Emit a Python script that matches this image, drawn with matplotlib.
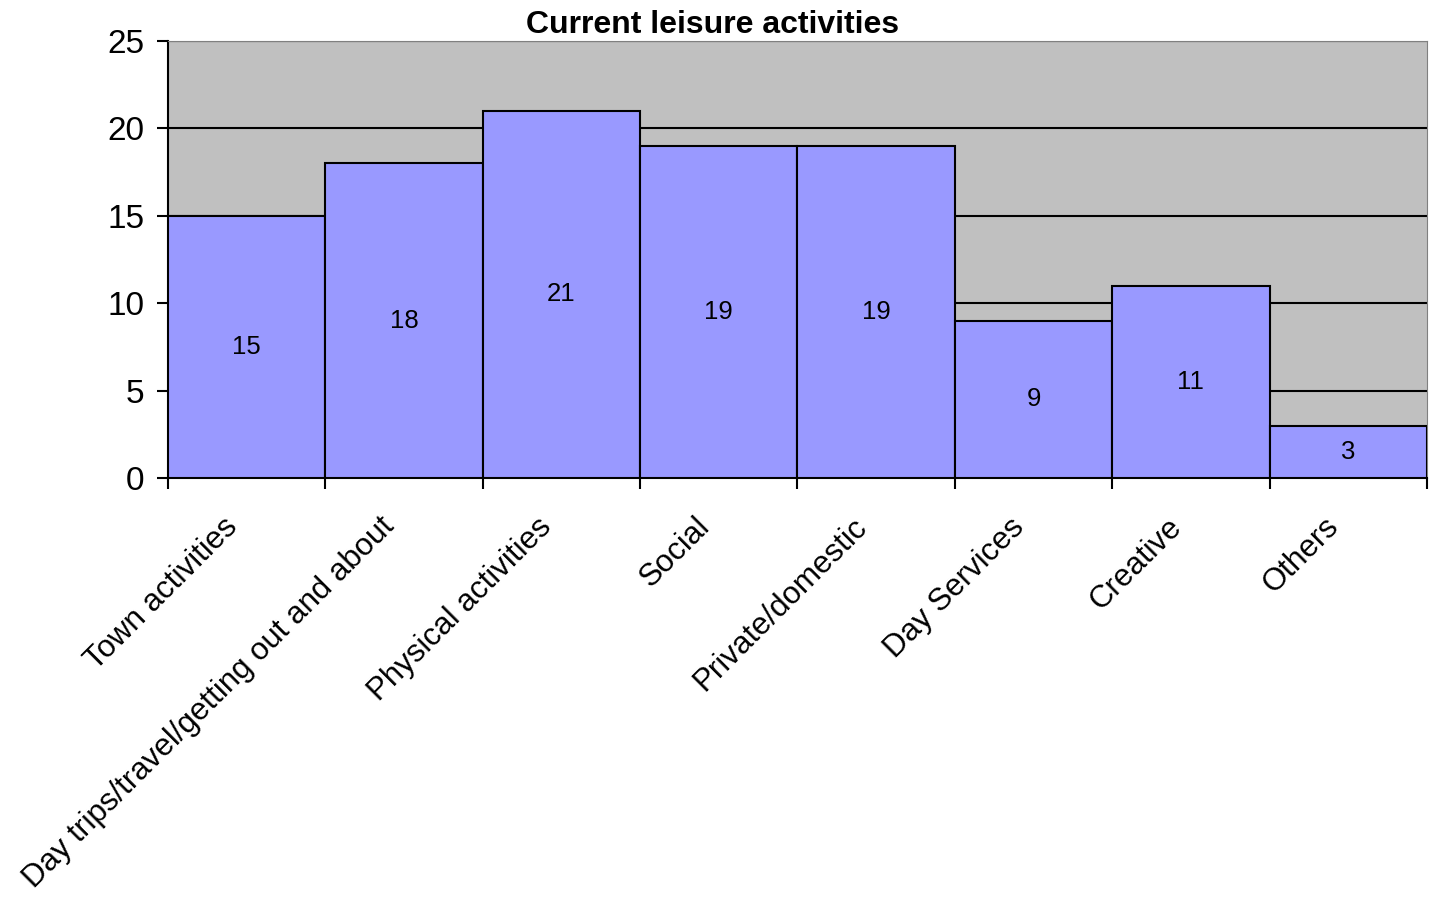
import matplotlib
matplotlib.use("Agg")
import matplotlib.pyplot as plt
import numpy as np

plt.rcParams['font.family'] = ['Liberation Sans', 'DejaVu Sans']

categories = ['Town activities', 'Day trips/travel/getting out and about',
              'Physical activities', 'Social', 'Private/domestic',
              'Day Services', 'Creative', 'Others']
values = [15, 18, 21, 19, 19, 9, 11, 3]
yticks = [0, 5, 10, 15, 20, 25]

fig = plt.figure(figsize=(14.36, 8.99), dpi=100)
ax = fig.add_axes([0.117, 0.4683, 0.8767, 0.4861])
ax.set_facecolor('#C0C0C0')

x = np.arange(len(categories))
ax.bar(x, values, width=1.0, color='#9999FF', edgecolor='black', linewidth=1.5, zorder=3)
for xi, v in zip(x, values):
    ax.text(xi, v / 2, str(v), ha='center', va='center', fontsize=18.5, zorder=4)

ax.set_xlim(-0.5, len(categories) - 0.5)
ax.set_ylim(0, 25)
ax.set_yticks(yticks)
ax.yaxis.grid(True, color='black', linewidth=1.5, zorder=1)
ax.set_axisbelow(True)

# ticks at category boundaries, labels at centres
ax.set_xticks(np.arange(len(categories) + 1) - 0.5)
ax.set_xticklabels([])
ax.tick_params(axis='x', length=8, width=1.5, direction='out')
ax.tick_params(axis='y', length=8, width=1.5, direction='out', labelsize=24, pad=9)
for xi, lab in zip(x, categories):
    ax.annotate(lab, xy=(xi, 0), xycoords=('data', 'axes fraction'),
                xytext=(-10, -32), textcoords='offset points',
                rotation=45, ha='right', va='center', rotation_mode='anchor',
                fontsize=22.5)

for s in ['top', 'right']:
    ax.spines[s].set_color('#808080')
for s in ['left', 'bottom']:
    ax.spines[s].set_color('black')
    ax.spines[s].set_linewidth(1.5)

fig.text(0.4965, 0.972, 'Current leisure activities', ha='center', va='center',
         fontsize=23, fontweight='bold')

fig.savefig('out.png', dpi=100)
